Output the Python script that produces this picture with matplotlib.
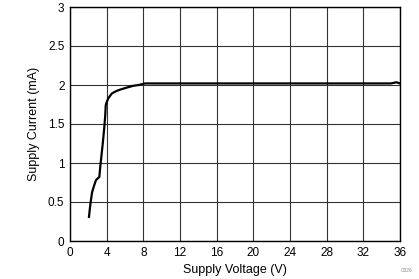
import matplotlib
matplotlib.use("Agg")
import matplotlib.pyplot as plt

voltage = [2.07, 2.2, 2.4, 2.6, 2.83, 3.0, 3.2, 3.3, 3.42, 3.6, 3.75, 3.85, 3.9, 4.0, 4.18, 4.55, 5.0, 5.45, 6.0, 6.9, 7.5, 8.18, 10, 15, 20, 25, 30, 35, 35.6, 36.0]
current = [0.31, 0.45, 0.62, 0.7, 0.78, 0.8, 0.82, 0.95, 1.08, 1.28, 1.47, 1.62, 1.74, 1.78, 1.83, 1.89, 1.92, 1.94, 1.96, 1.99, 2.0, 2.02, 2.02, 2.02, 2.02, 2.02, 2.02, 2.02, 2.035, 2.02]

xticks = [0, 4, 8, 12, 16, 20, 24, 28, 32, 36]
yticks = [0, 0.5, 1, 1.5, 2, 2.5, 3]
ytick_labels = ["0", "0.5", "1", "1.5", "2", "2.5", "3"]

plt.rcParams['font.family'] = ['Liberation Sans', 'DejaVu Sans']

fig = plt.figure(figsize=(4.19, 2.79), dpi=100)
ax = fig.add_axes([70/419, 1-241/279, 330/419, 234/279])
ax.plot(voltage, current, color='black', lw=1.6, solid_joinstyle='round')
ax.set_xlim(0, 36)
ax.set_ylim(0, 3)
ax.set_xticks(xticks)
ax.set_yticks(yticks)
ax.set_yticklabels(ytick_labels)
ax.grid(True, color='#333333', lw=0.8)
ax.set_axisbelow(True)
ax.tick_params(length=0, labelsize=8.5, pad=4, colors='black')
for s in ax.spines.values():
    s.set_linewidth(1.0)
    s.set_color('black')
ax.set_xlabel('Supply Voltage (V)', fontsize=9, labelpad=4)
ax.set_ylabel('Supply Current (mA)', fontsize=9, labelpad=6)
fig.text(412/419, 1-270/279, 'C026', fontsize=3.5, color='#888888', ha='right', va='center')
fig.savefig('out.png', dpi=100)
